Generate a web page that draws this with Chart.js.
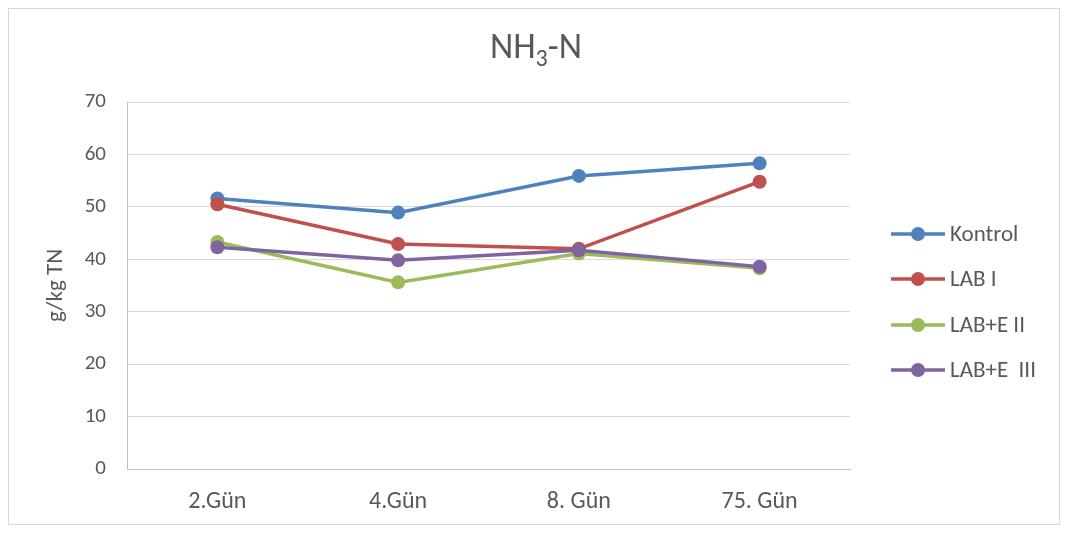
<!DOCTYPE html>
<html>
<head>
<meta charset="utf-8">
<script src="https://cdn.jsdelivr.net/npm/chart.js@4"></script>
<style>
  html, body { margin: 0; padding: 0; background: #fff; }
  #wrap { position: relative; width: 1066px; height: 533px; }
</style>
</head>
<body>
<div id="wrap"><canvas id="myChart" width="1066" height="533"></canvas></div>
<script>
// Data
const days = ['2.Gün', '4.Gün', '8. Gün', '75. Gün'];
const kontrol = [51.6, 48.9, 55.9, 58.3];
const labI = [50.5, 42.9, 42.0, 54.8];
const labE2 = [43.3, 35.6, 41.1, 38.3];
const labE3 = [42.3, 39.8, 41.7, 38.6];
const seriesNames = ['Kontrol', 'LAB I', 'LAB+E II', 'LAB+E  III'];
const colors = ['#4F81BD', '#C0504D', '#9BBB59', '#8064A2'];

const FONT = "Carlito, 'Open Sans', sans-serif";
const textColor = '#595959';

function makeSet(name, data, i) {
    return {
        label: name,
        data: data,
        borderColor: colors[i],
        backgroundColor: colors[i],
        borderWidth: 3.5,
        pointRadius: 7,
        pointHoverRadius: 7,
        pointBorderWidth: 0,
        tension: 0,
        order: 4 - i
    };
}

// Frame, title with subscript and Excel-style legend
const decorations = {
    id: 'decorations',
    beforeDraw(chart) {
        const ctx = chart.ctx;
        ctx.save();
        ctx.strokeStyle = '#d9d9d9';
        ctx.lineWidth = 1;
        ctx.strokeRect(8.5, 8.5, 1051, 516);
        ctx.restore();
    },
    afterDraw(chart) {
        const ctx = chart.ctx;
        ctx.save();
        // title
        ctx.fillStyle = textColor;
        ctx.textBaseline = 'alphabetic';
        ctx.font = '36px ' + FONT;
        const a = 'NH', b = '3', c = '-N';
        const wa = ctx.measureText(a).width;
        const wc = ctx.measureText(c).width;
        ctx.font = '24px ' + FONT;
        const wb = ctx.measureText(b).width;
        let x = 536 - (wa + wb + wc) / 2;
        ctx.font = '36px ' + FONT;
        ctx.fillText(a, x, 58);
        ctx.font = '24px ' + FONT;
        ctx.fillText(b, x + wa, 66);
        ctx.font = '36px ' + FONT;
        ctx.fillText(c, x + wa + wb, 58);

        // legend
        const rows = [234, 279, 325, 370];
        ctx.font = '23px ' + FONT;
        ctx.textBaseline = 'middle';
        seriesNames.forEach((name, i) => {
            const y = rows[i];
            ctx.strokeStyle = colors[i];
            ctx.lineWidth = 3.5;
            ctx.beginPath();
            ctx.moveTo(891, y);
            ctx.lineTo(945, y);
            ctx.stroke();
            ctx.fillStyle = colors[i];
            ctx.beginPath();
            ctx.arc(918, y, 7, 0, Math.PI * 2);
            ctx.fill();
            ctx.fillStyle = textColor;
            ctx.fillText(name, 950, y + 1);
        });
        ctx.restore();
    }
};

const ctx = document.getElementById('myChart');

new Chart(ctx, {
    type: 'line',
    data: {
        labels: days,
        datasets: [
            makeSet(seriesNames[0], kontrol, 0),
            makeSet(seriesNames[1], labI, 1),
            makeSet(seriesNames[2], labE2, 2),
            makeSet(seriesNames[3], labE3, 3)
        ]
    },
    options: {
        responsive: false,
        animation: false,
        layout: { padding: { left: 0, top: 102, right: 216, bottom: 0 } },
        plugins: {
            legend: { display: false },
            title: { display: false },
            tooltip: { enabled: false }
        },
        scales: {
            x: {
                offset: true,
                grid: { display: false, drawTicks: false },
                border: { color: '#bfbfbf', width: 1 },
                ticks: { color: textColor, font: { family: FONT, size: 24 }, padding: 19 },
                afterFit(scale) { scale.height = 64; }
            },
            y: {
                min: 0,
                max: 70,
                ticks: { stepSize: 10, color: textColor, font: { family: FONT, size: 21 }, padding: 21 },
                grid: { color: '#d9d9d9', lineWidth: 1, drawTicks: false },
                border: { color: '#bfbfbf', width: 1 },
                title: {
                    display: true,
                    text: 'g/kg TN',
                    color: textColor,
                    font: { family: FONT, size: 23 },
                    padding: { top: 42, bottom: 0 }
                },
                afterFit(scale) { scale.width = 127; }
            }
        }
    },
    plugins: [decorations]
});
</script>
</body>
</html>
